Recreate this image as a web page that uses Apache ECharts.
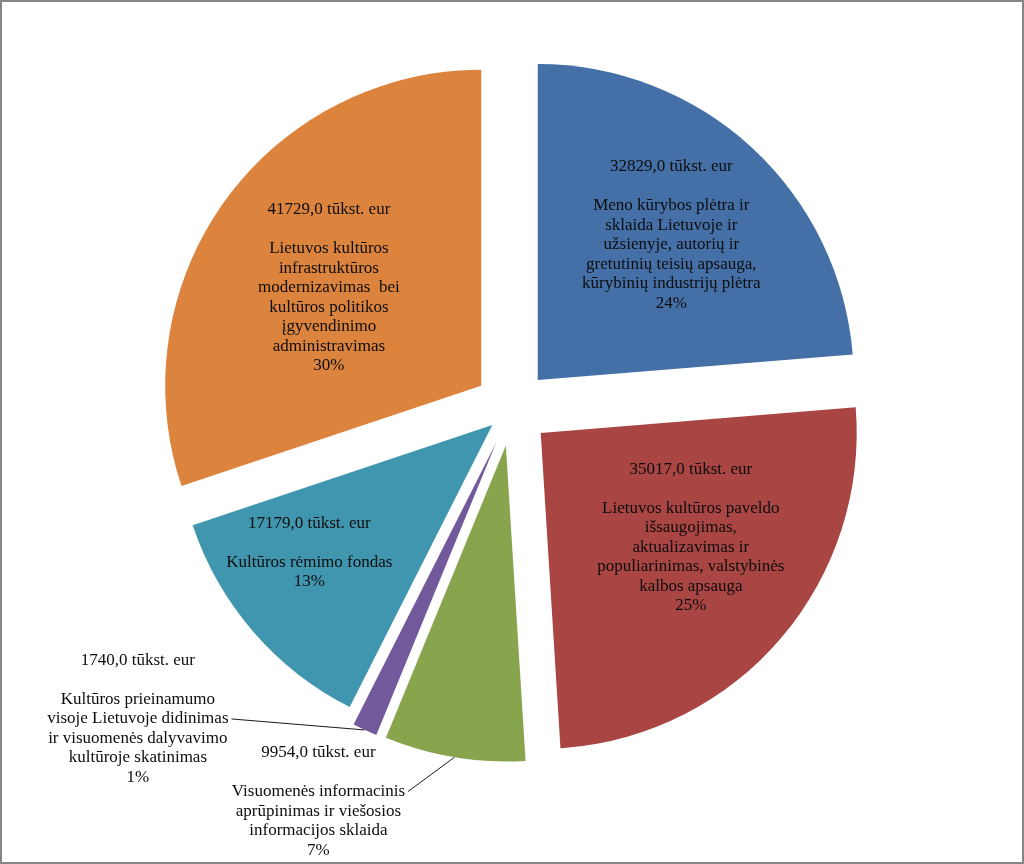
<!DOCTYPE html>
<html>
<head>
<meta charset="utf-8">
<script src="https://cdn.jsdelivr.net/npm/echarts@6/dist/echarts.min.js"></script>
<style>
html,body{margin:0;padding:0;background:#fff;}
#chart{position:absolute;left:0;top:0;width:1024px;height:864px;}
#frame{position:absolute;left:0;top:0;width:1024px;height:864px;box-sizing:border-box;border:2px solid #878787;pointer-events:none;}
</style>
</head>
<body>
<div id="chart"></div>
<div id="frame"></div>
<script>
// ---- data ----
const categories = [
  'Meno kūrybos plėtra ir\nsklaida Lietuvoje ir\nužsienyje, autorių ir\ngretutinių teisių apsauga,\nkūrybinių industrijų plėtra',
  'Lietuvos kultūros paveldo\nišsaugojimas,\naktualizavimas ir\npopuliarinimas, valstybinės\nkalbos apsauga',
  'Visuomenės informacinis\naprūpinimas ir viešosios\ninformacijos sklaida',
  'Kultūros prieinamumo\nvisoje Lietuvoje didinimas\nir visuomenės dalyvavimo\nkultūroje skatinimas',
  'Kultūros rėmimo fondas',
  'Lietuvos kultūros\ninfrastruktūros\nmodernizavimas  bei\nkultūros politikos\nįgyvendinimo\nadministravimas'
];
const values = [32829.0, 35017.0, 9954.0, 1740.0, 17179.0, 41729.0];
const shareLabels = ['24%', '25%', '7%', '1%', '13%', '30%'];

// ---- layout / style ----
const PIE = { cx: 512, cy: 408, r: 316 };
const explode = [38, 38, 38, 38, 26, 38];
const palette = ['#4470A7', '#A94543', '#88A54E', '#72599C', '#4096AF', '#DC843D'];
const LH = 19.5;
const labelPlace = [
  { polar: [197, 0] },
  { polar: [183, -6] },
  { shift: [-136, 44], lineRow: -0.5 },
  { shift: [-227, -11], lineRow: 0 },
  { polar: [223, 6] },
  { polar: [181, -3] }
];

const total = values.reduce((a, b) => a + b, 0);
const fmtVal = v => v.toFixed(1).replace('.', ',') + ' tūkst. eur';

let acc = 0;
const series = values.map((v, i) => {
  const a0 = acc / total * 360;
  acc += v;
  const a1 = acc / total * 360;
  const mid = (a0 + a1) / 2;
  const mr = mid * Math.PI / 180;
  const nx = Math.sin(mr), ny = -Math.cos(mr);
  const cx = PIE.cx + explode[i] * nx;
  const cy = PIE.cy + explode[i] * ny;
  const L = labelPlace[i];
  const inside = !!L.polar;
  const text = fmtVal(v) + '\n\n' + categories[i] + '\n' + shareLabels[i];
  return {
    type: 'pie',
    center: [cx, cy],
    radius: PIE.r,
    startAngle: 90 - a0,
    endAngle: 90 - a1,
    clockwise: true,
    silent: true,
    animation: false,
    data: [{ name: categories[i], value: v, itemStyle: { color: palette[i] } }],
    label: {
      show: true,
      position: inside ? 'inside' : 'outside',
      formatter: () => text,
      fontFamily: 'Liberation Serif',
      fontSize: 17,
      lineHeight: LH,
      color: '#0d0d0d',
      textBorderWidth: 0,
      align: 'center'
    },
    labelLine: {
      show: !inside,
      length: 10,
      length2: 10,
      smooth: false,
      lineStyle: { color: '#1a1a1a', width: 1 }
    },
    labelLayout: function (p) {
      if (inside) {
        const ang = (mid + L.polar[1]) * Math.PI / 180;
        return {
          x: cx + L.polar[0] * Math.sin(ang),
          y: cy - L.polar[0] * Math.cos(ang),
          align: 'center',
          verticalAlign: 'middle'
        };
      }
      const a = (p.labelLinePoints && p.labelLinePoints[0]) || [cx + PIE.r * nx, cy + PIE.r * ny];
      const x = a[0] + L.shift[0];
      const y = a[1] + L.shift[1];
      return {
        x: x,
        y: y,
        align: 'center',
        verticalAlign: 'middle',
        labelLinePoints: [[a[0], a[1]], [x + p.labelRect.width / 2 + 3, y + L.lineRow * LH]]
      };
    }
  };
});

const chart = echarts.init(document.getElementById('chart'));
chart.setOption({
  backgroundColor: '#ffffff',
  animation: false,
  series: series
});
</script>
</body>
</html>
